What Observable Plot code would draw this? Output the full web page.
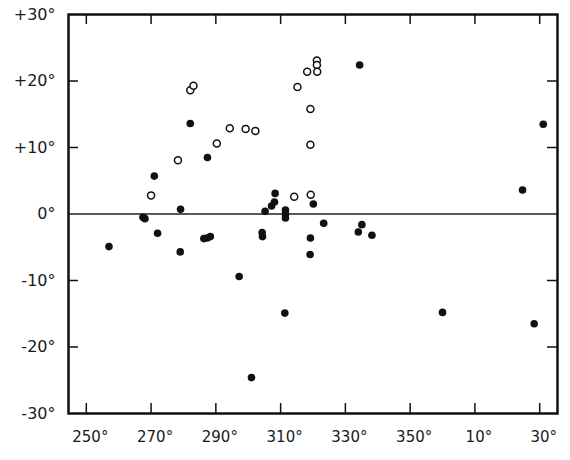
<!DOCTYPE html>
<html>
<head>
<meta charset="utf-8">
<script src="https://cdn.jsdelivr.net/npm/d3@7"></script>
<script src="https://cdn.jsdelivr.net/npm/@observablehq/plot@0.6"></script>
<style>
  html, body { margin: 0; padding: 0; background: #fff; }
  #chart svg { display: block; }
</style>
</head>
<body>
<div id="chart"></div>
<script>
// Galactic longitude (degrees, 360+ wraps to 0..30) and latitude
const openLon = [270.0, 278.3, 282.1, 283.1, 290.3, 294.3, 299.2, 302.2, 314.2, 315.2, 318.2, 319.2, 319.2, 319.3, 321.2, 321.2, 321.3];
const openLat = [2.8, 8.1, 18.6, 19.3, 10.6, 12.9, 12.8, 12.5, 2.6, 19.1, 21.4, 15.8, 10.4, 2.9, 23.1, 22.4, 21.4];

const filledLon = [257.0, 267.5, 268.1, 271.0, 272.0, 279.1, 279.0, 282.1, 287.4, 286.3, 287.3, 288.3,
  297.2, 301.0, 304.3, 304.4, 305.2, 307.2, 308.1, 308.3, 311.5, 311.5, 311.5, 311.3,
  319.2, 319.1, 320.1, 323.3, 334.4, 334.0, 335.1, 338.2, 360.0, 384.7, 388.3, 391.1];
const filledLat = [-4.9, -0.5, -0.7, 5.7, -2.9, 0.7, -5.7, 13.6, 8.5, -3.7, -3.6, -3.4,
  -9.4, -24.6, -2.8, -3.4, 0.4, 1.2, 1.8, 3.1, 0.6, 0.0, -0.6, -14.9,
  -3.6, -6.1, 1.5, -1.4, 22.4, -2.7, -1.6, -3.2, -14.8, 3.6, -16.5, 13.5];

const xTicks = [250, 270, 290, 310, 330, 350, 370, 390];
const yTicks = [-30, -20, -10, 0, 10, 20, 30];

const openPts = openLon.map((x, i) => ({x, y: openLat[i]}));
const filledPts = filledLon.map((x, i) => ({x, y: filledLat[i]}));

const W = 570, H = 460;
const mL = 68, mR = 13, mT = 14, mB = 47;
const innerW = W - mL - mR, innerH = H - mT - mB;
const tickLen = 10;

const chart = Plot.plot({
  width: W,
  height: H,
  marginLeft: mL,
  marginRight: mR,
  marginTop: mT,
  marginBottom: mB,
  style: {fontFamily: "DejaVu Sans", background: "#fff", color: "#1a1a1a"},
  x: {domain: [244.5, 395.5]},
  y: {domain: [-30, 30]},
  marks: [
    Plot.ruleY([0], {stroke: "#222", strokeWidth: 1.3}),
    // inward ticks on all four sides
    Plot.ruleX(xTicks, {x: d => d, insetTop: innerH - tickLen, stroke: "#111", strokeWidth: 1.5}),
    Plot.ruleX(xTicks, {x: d => d, insetBottom: innerH - tickLen, stroke: "#111", strokeWidth: 1.5}),
    Plot.ruleY(yTicks.filter(d => d !== 0 && Math.abs(d) !== 30), {y: d => d, insetRight: innerW - tickLen, stroke: "#111", strokeWidth: 1.5}),
    Plot.ruleY(yTicks.filter(d => d !== 0 && Math.abs(d) !== 30), {y: d => d, insetLeft: innerW - tickLen, stroke: "#111", strokeWidth: 1.5}),
    Plot.axisX(xTicks, {
      anchor: "bottom", tickSize: 0, tickPadding: 18, dx: 4,
      tickFormat: d => `${d % 360}°`, fontSize: 15, label: null,
      style: {letterSpacing: "3px"}
    }),
    Plot.axisY(yTicks, {
      anchor: "left", tickSize: 0, tickPadding: 13,
      tickFormat: d => d > 0 ? `+${d}°` : `${d}°`, fontSize: 16, label: null,
      style: {letterSpacing: "3.5px"}
    }),
    Plot.frame({stroke: "#111", strokeWidth: 2.5}),
    Plot.dot(openPts, {x: "x", y: "y", r: 3.5, stroke: "#111", strokeWidth: 1.5, fill: "#fff"}),
    Plot.dot(filledPts, {x: "x", y: "y", r: 3.8, fill: "#111", stroke: "none"})
  ]
});

document.getElementById("chart").appendChild(chart);
</script>
</body>
</html>
